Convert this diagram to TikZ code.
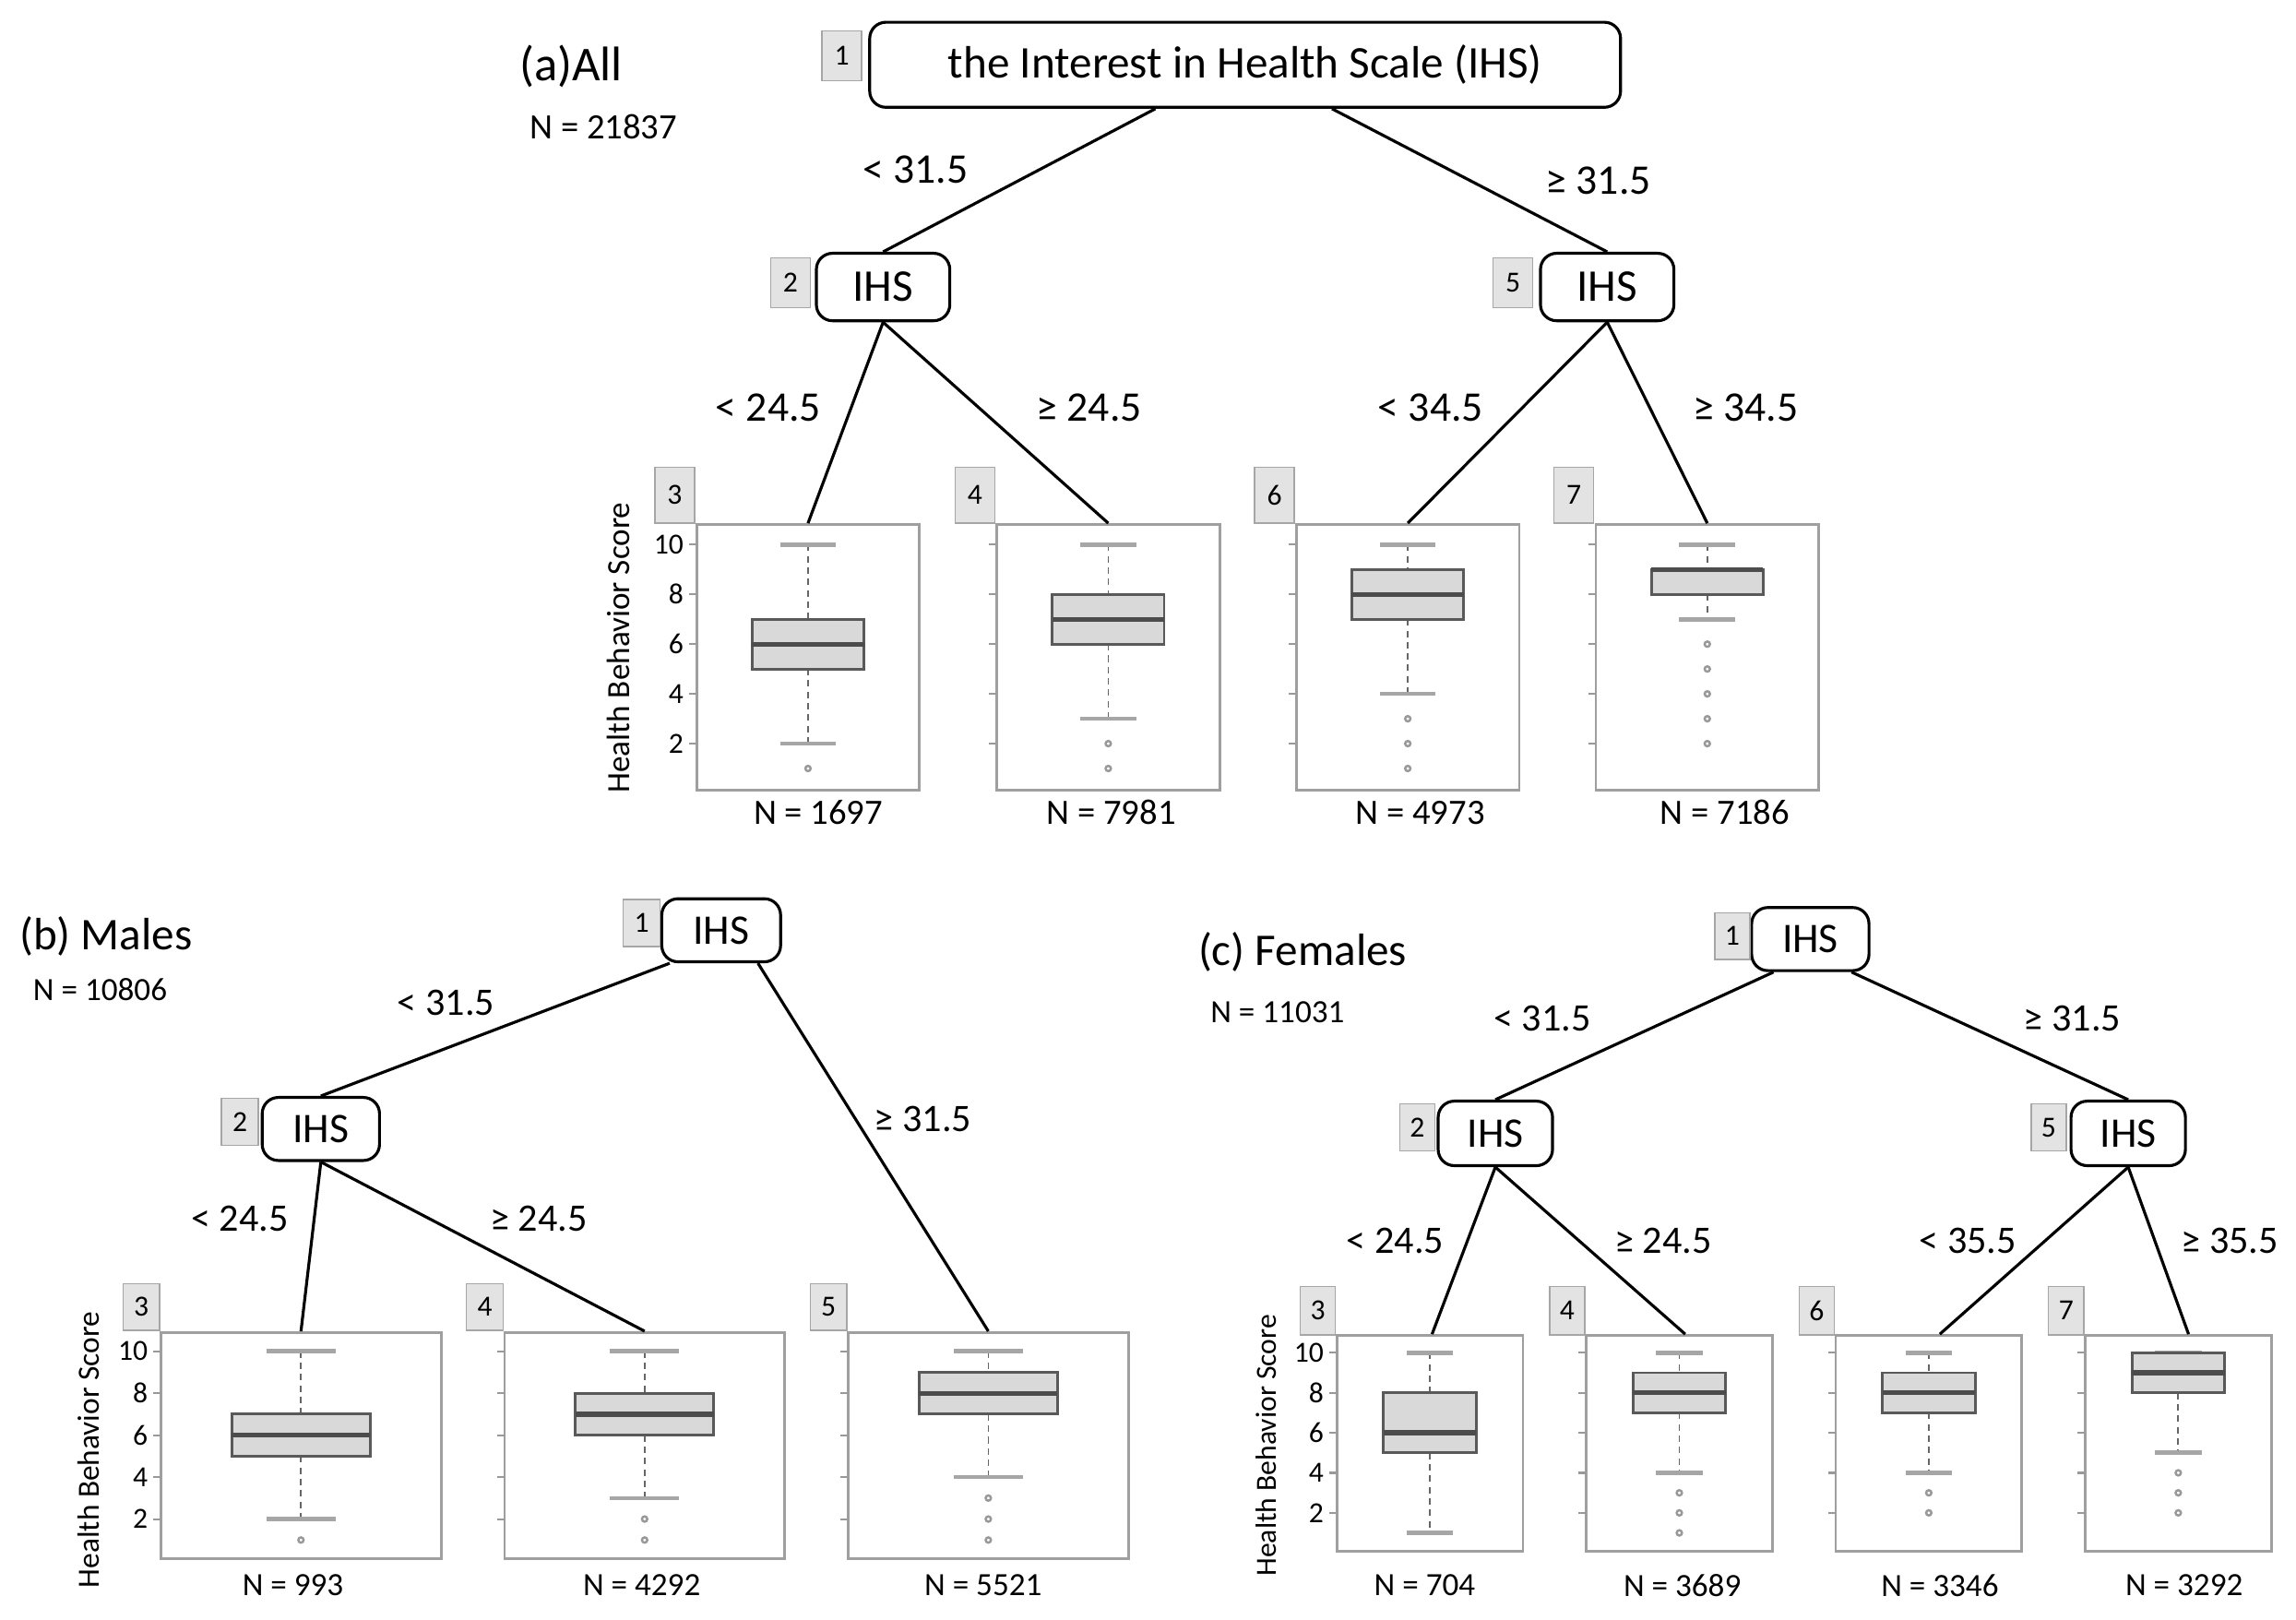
\documentclass[tikz,border=0pt]{standalone}
\usepackage{fontspec}
\setmainfont{Carlito}
\usetikzlibrary{calc}
\def\pxu{0.4525pt}
\tikzset{
 tn/.style={draw, rounded corners=5pt, line width=0.9pt, inner sep=0pt, fill=white},
 tag/.style={draw=gray!70, fill=gray!22, inner sep=0pt, minimum width=27*\pxu, minimum height=34*\pxu, font=\fontsize{9}{10}\selectfont},
 panel/.style={draw=gray!75, line width=0.8pt, inner sep=0pt},
 edge/.style={line width=0.9pt},
 el/.style={font=\fontsize{13}{15}\selectfont},
 elb/.style={font=\fontsize{12}{14}\selectfont},
 nl/.style={font=\fontsize{11}{13}\selectfont},
 nlb/.style={font=\fontsize{10}{12}\selectfont},
 whisk/.style={gray!80!black, dashed, dash pattern=on 2pt off 1.5pt, line width=0.5pt},
 capl/.style={gray!70, line width=1.3pt},
 boxs/.style={draw=gray!70!black, fill=gray!30, line width=0.8pt},
 medl/.style={black!70, line width=1.5pt},
 outl/.style={draw=gray!80, line width=0.7pt},
 tickl/.style={gray!80, line width=0.6pt},
}
\newcommand\bxp[9]{%
 \draw[whisk] (#1,#2) -- (#1,{#2+(10-#8)*#3});
 \draw[whisk] (#1,{#2+(10-#6)*#3}) -- (#1,{#2+(10-#5)*#3});
 \draw[capl] ({#1-#4/2},#2) -- ({#1+#4/2},#2);
 \draw[capl] ({#1-#4/2},{#2+(10-#5)*#3}) -- ({#1+#4/2},{#2+(10-#5)*#3});
 \draw[boxs] ({#1-#4},{#2+(10-#8)*#3}) rectangle ({#1+#4},{#2+(10-#6)*#3});
 \draw[medl] ({#1-#4},{#2+(10-#7)*#3}) -- ({#1+#4},{#2+(10-#7)*#3});
 \foreach \ov in {#9}{\ifx\ov\empty\else\draw[outl] (#1,{#2+(10-\ov)*#3}) circle (1.8);\fi}
}
\newcommand\tks[4]{%
 \foreach \v in {2,4,6,8,10}{\draw[tickl] (#1,{#2+(10-\v)*#3}) -- ++(-5,0);
 \ifnum#4=1 \node[anchor=east, inner sep=1pt, font=\fontsize{9}{10}\selectfont] at ($(#1,{#2+(10-\v)*#3})+(-6,0)$) {\v};\fi}
}
\begin{document}
\begin{tikzpicture}[x=0.01596cm, y=-0.01596cm]
\useasboundingbox (0,0) rectangle (1560,1100);
% ---------------- (a)
\node[font=\fontsize{15}{17}\selectfont] (ta) at (388,45) {(a)All};
\node[nl] (tna) at (410,86) {N = 21837};
\node[tn, minimum width=512*\pxu, minimum height=58*\pxu, font=\fontsize{14}{16}\selectfont] (a1) at (846,44) {the Interest in Health Scale (IHS)};
\node[tn, minimum width=91*\pxu, minimum height=46*\pxu, font=\fontsize{14}{16}\selectfont] (a2) at (600,195) {IHS};
\node[tn, minimum width=91*\pxu, minimum height=46*\pxu, font=\fontsize{14}{16}\selectfont] (a5) at (1092,195) {IHS};
\node[tag] (ga1) at (572,38) {1};
\node[tag] (ga2) at (537,192) {2};
\node[tag] (ga5) at (1028,192) {5};
\foreach \n/\x in {3/549,4/753,6/956.5,7/1160}{
 \node[panel, minimum width=152*\pxu, minimum height=181*\pxu] (a\n) at (\x,446.5) {};
 \node[tag, minimum height=38*\pxu] (ga\n) at ($(a\n.north west)+(-14,-19)$) {\n};
}
\draw[edge] ($(a1.south)+(-61,0)$) -- (a2.north);
\draw[edge] ($(a1.south)+(59,0)$) -- (a5.north);
\draw[edge] (a2.south) -- (a3.north);
\draw[edge] (a2.south) -- (a4.north);
\draw[edge] (a5.south) -- (a6.north);
\draw[edge] (a5.south) -- (a7.north);
\node[el] (la1) at (622,115) {< 31.5};
\node[el] (la2) at (1086,123) {≥ 31.5};
\node[el] (la3) at (522,277) {< 24.5};
\node[el] (la4) at (740,277) {≥ 24.5};
\node[el] (la5) at (972,277) {< 34.5};
\node[el] (la6) at (1186,277) {≥ 34.5};
\tks{473}{370}{16.9}{1}
\tks{677}{370}{16.9}{0}
\tks{880.5}{370}{16.9}{0}
\tks{1084}{370}{16.9}{0}
\node[rotate=90, font=\fontsize{10}{12}\selectfont] (ya) at (420,440) {Health Behavior Score};
\bxp{549}{370}{16.9}{38}{2}{5}{6}{7}{1}
\bxp{753}{370}{16.9}{38}{3}{6}{7}{8}{2,1}
\bxp{956.5}{370}{16.9}{38}{4}{7}{8}{9}{3,2,1}
\bxp{1160}{370}{16.9}{38}{7}{8}{9}{9}{6,5,4,3,2}
\node[nl] (na3) at (556,552) {N = 1697};
\node[nl] (na4) at (755,552) {N = 7981};
\node[nl] (na6) at (965,552) {N = 4973};
\node[nl] (na7) at (1172,552) {N = 7186};
% ---------------- (b)
\node[font=\fontsize{14}{16}\selectfont] (tb) at (72,636) {(b) Males};
\node[nlb] (tnb) at (68,672) {N = 10806};
\node[tn, minimum width=81*\pxu, minimum height=43*\pxu, font=\fontsize{13}{15}\selectfont] (b1) at (490,632) {IHS};
\node[tn, minimum width=80*\pxu, minimum height=43*\pxu, font=\fontsize{13}{15}\selectfont] (b2) at (218,767) {IHS};
\node[tag, minimum width=25*\pxu, minimum height=32*\pxu] (gb1) at (436,627) {1};
\node[tag, minimum width=25*\pxu, minimum height=32*\pxu] (gb2) at (163,762) {2};
\foreach \n/\x in {3/204.5,4/438,5/671.5}{
 \node[panel, minimum width=191*\pxu, minimum height=154*\pxu] (b\n) at (\x,982) {};
 \node[tag, minimum width=25*\pxu, minimum height=32*\pxu] (gb\n) at ($(b\n.north west)+(-12.5,-16.5)$) {\n};
}
\draw[edge] ($(b1.south)+(-35,0)$) -- (b2.north);
\draw[edge] ($(b1.south)+(25,0)$) -- (b5.north);
\draw[edge] (b2.south) -- (b3.north);
\draw[edge] (b2.south) -- (b4.north);
\node[elb] (lb1) at (303,681) {< 31.5};
\node[elb] (lb2) at (627,760) {≥ 31.5};
\node[elb] (lb3) at (163,828) {< 24.5};
\node[elb] (lb4) at (366,828) {≥ 24.5};
\tks{109}{918}{14.25}{1}
\tks{343}{918}{14.25}{0}
\tks{576}{918}{14.25}{0}
\node[rotate=90, font=\fontsize{9.5}{11}\selectfont] (yb) at (60,985) {Health Behavior Score};
\bxp{204.5}{918}{14.25}{47}{2}{5}{6}{7}{1}
\bxp{438}{918}{14.25}{47}{3}{6}{7}{8}{2,1}
\bxp{671.5}{918}{14.25}{47}{4}{7}{8}{9}{3,2,1}
\node[nlb] (nb3) at (199,1077) {N = 993};
\node[nlb] (nb4) at (436,1077) {N = 4292};
\node[nlb] (nb5) at (668,1077) {N = 5521};
% ---------------- (c)
\node[font=\fontsize{14}{16}\selectfont] (tc) at (885,647) {(c) Females};
\node[nlb] (tnc) at (868,688) {N = 11031};
\node[tn, minimum width=80*\pxu, minimum height=43*\pxu, font=\fontsize{13}{15}\selectfont] (c1) at (1230,638) {IHS};
\node[tn, minimum width=78*\pxu, minimum height=44*\pxu, font=\fontsize{13}{15}\selectfont] (c2) at (1016,770) {IHS};
\node[tn, minimum width=78*\pxu, minimum height=44*\pxu, font=\fontsize{13}{15}\selectfont] (c5) at (1446,770) {IHS};
\node[tag, minimum width=24*\pxu, minimum height=32*\pxu] (gc1) at (1177,636) {1};
\node[tag, minimum width=24*\pxu, minimum height=32*\pxu] (gc2) at (963,766) {2};
\node[tag, minimum width=24*\pxu, minimum height=32*\pxu] (gc5) at (1392,766) {5};
\foreach \n/\x in {3/971.5,4/1141,6/1310.5,7/1480}{
 \node[panel, minimum width=127*\pxu, minimum height=147*\pxu] (c\n) at (\x,980.5) {};
 \node[tag, minimum width=24*\pxu, minimum height=33*\pxu] (gc\n) at ($(c\n.north west)+(-12,-16)$) {\n};
}
\draw[edge] ($(c1.south)+(-25,0)$) -- (c2.north);
\draw[edge] ($(c1.south)+(28,0)$) -- (c5.north);
\draw[edge] (c2.south) -- ($(c3.north)+(1.5,0)$);
\draw[edge] (c2.south) -- ($(c4.north)+(4,0)$);
\draw[edge] (c5.south) -- ($(c6.north)+(7.5,0)$);
\draw[edge] (c5.south) -- ($(c7.north)+(7,0)$);
\node[elb] (lc1) at (1048,692) {< 31.5};
\node[elb] (lc2) at (1408,692) {≥ 31.5};
\node[elb] (lc3) at (948,843) {< 24.5};
\node[elb] (lc4) at (1130,843) {≥ 24.5};
\node[elb] (lc5) at (1337,843) {< 35.5};
\node[elb] (lc6) at (1515,843) {≥ 35.5};
\tks{908}{919}{13.6}{1}
\tks{1077.5}{919}{13.6}{0}
\tks{1247}{919}{13.6}{0}
\tks{1416.5}{919}{13.6}{0}
\node[rotate=90, font=\fontsize{9}{11}\selectfont] (yc) at (860,982) {Health Behavior Score};
\bxp{971.5}{919}{13.6}{31.5}{1}{5}{6}{8}{}
\bxp{1141}{919}{13.6}{31.5}{4}{7}{8}{9}{3,2,1}
\bxp{1310.5}{919}{13.6}{31.5}{4}{7}{8}{9}{3,2}
\bxp{1480}{919}{13.6}{31.5}{5}{8}{9}{10}{4,3,2}
\node[nlb] (nc3) at (968,1077) {N = 704};
\node[nlb] (nc4) at (1143,1077) {N = 3689};
\node[nlb] (nc6) at (1318,1077) {N = 3346};
\node[nlb] (nc7) at (1484,1077) {N = 3292};
\end{tikzpicture}
\end{document}
